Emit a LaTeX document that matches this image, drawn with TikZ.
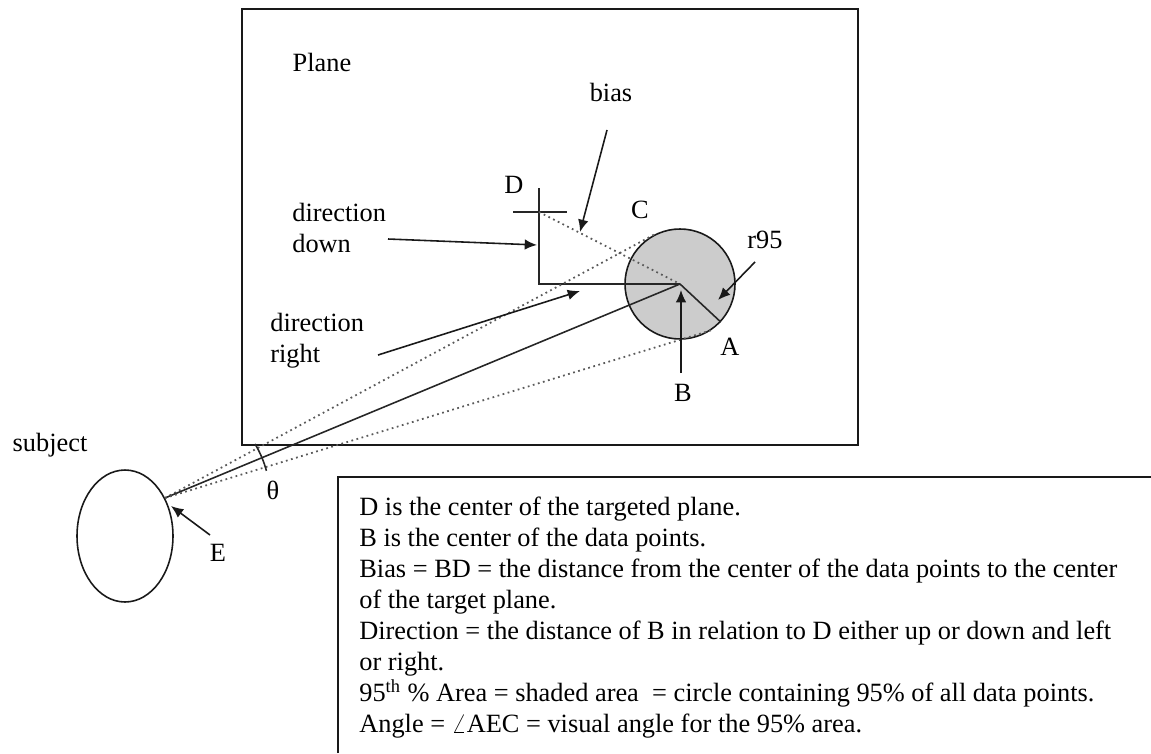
\documentclass[tikz,border=0pt]{standalone}
\usepackage{fontspec}
\setmainfont{Liberation Serif}
\usetikzlibrary{arrows.meta,calc,shapes.geometric}
\tikzset{
  lbl/.style     = {inner sep=0pt, align=left},
  ray/.style     = {line width=0.9pt, black!85},
  dotray/.style  = {line width=1pt, dotted, black!65},
  pointer/.style = {-{Latex[length=7pt,width=6pt]}, line width=0.9pt, black!90},
  disc/.style    = {circle, draw=black!90, line width=0.9pt, fill=black!20,
                    minimum size=2.2cm, inner sep=0pt},
  frame/.style   = {draw=black!90, line width=0.9pt},
}

\begin{document}
\begin{tikzpicture}[x=0.02cm, y=-0.02cm, font=\fontsize{15pt}{17.6pt}\selectfont]
  \useasboundingbox (0,0) rectangle (1151,753);

  % target plane
  \draw[frame] (242,9) rectangle (858,445);
  \node[lbl] (plane) at (322,62) {Plane};

  % data points
  \node[disc] (blob) at (680,284) {};
  \coordinate (B) at (blob.center);

  % target centre D
  \coordinate (Dtop)    at (539,188);
  \coordinate (Dmid)    at (539,212);
  \coordinate (Dcorner) at (539,284);
  \coordinate (Dleft)   at (513,212);
  \coordinate (Dright)  at (567,212);
  \draw[ray] (Dtop) -- (Dcorner) -- (B);
  \draw[ray] (Dleft) -- (Dright);
  \draw[dotray] (Dmid) -- (B);
  \draw[ray] (B) -- (blob.-43);

  % subject
  \node[draw=black!90, line width=0.9pt, ellipse, minimum width=1.92cm,
        minimum height=2.64cm, inner sep=0pt] (eye) at (125,536) {};
  \coordinate (E) at (165,498);
  \draw[dotray] (E) -- (blob.118);
  \draw[ray]    (E) -- (B);
  \draw[dotray] (E) -- (blob.-56);
  \draw[ray] ($(E)+(-31:105)$) arc[start angle=-31, end angle=-15, radius=105];

  % labels
  \node[lbl] (bias)   at (611,92)  {bias};
  \node[lbl] (Dlbl)   at (514,185) {D};
  \node[lbl] (Clbl)   at (640,210) {C};
  \node[lbl] (rlbl)   at (765,240) {r95};
  \node[lbl, anchor=west] (down)  at (292,228) {direction\\down};
  \node[lbl, anchor=west] (right) at (270,341) {direction\\right};
  \node[lbl] (Albl)   at (730,347) {A};
  \node[lbl] (Blbl)   at (683,393) {B};
  \node[lbl] (subj)   at (50,445)  {subject};
  \node[lbl] (theta)  at (273,490) {θ};
  \node[lbl] (Elbl)   at (218,553) {E};

  % pointers
  \coordinate (biastail)  at (607,130); \coordinate (biastip)  at (580,232);
  \coordinate (downtail)  at (388,239); \coordinate (downtip)  at (537,245);
  \coordinate (righttail) at (378,355); \coordinate (righttip) at (580,291);
  \coordinate (Btail)     at (681,373); \coordinate (Btip)     at (681,290);
  \coordinate (rtail)     at (755,262); \coordinate (rtip)     at (718,300);
  \coordinate (Etail)     at (210,535); \coordinate (Etip)     at (171,506);
  \draw[pointer] (biastail)  -- (biastip);
  \draw[pointer] (downtail)  -- (downtip);
  \draw[pointer] (righttail) -- (righttip);
  \draw[pointer] (Btail)     -- (Btip);
  \draw[pointer] (rtail)     -- (rtip);
  \draw[pointer] (Etail)     -- (Etip);

  % legend box
  \draw[frame, line width=0.7pt] (338,753) -- (338,477) -- (1151,477);
  \node[lbl, anchor=north west] (legend) at (359,497)
    {D is the center of the targeted plane.\\
     B is the center of the data points.\\
     Bias = BD = the distance from the center of the data points to the center\\
     of the target plane.\\
     Direction = the distance of B in relation to D either up or down and left\\
     or right.\\
     95\textsuperscript{th} \% Area = shaded area \ = circle containing 95\% of all data points.\\
     Angle = $\angle$AEC = visual angle for the 95\% area.};

\end{tikzpicture}
\end{document}
